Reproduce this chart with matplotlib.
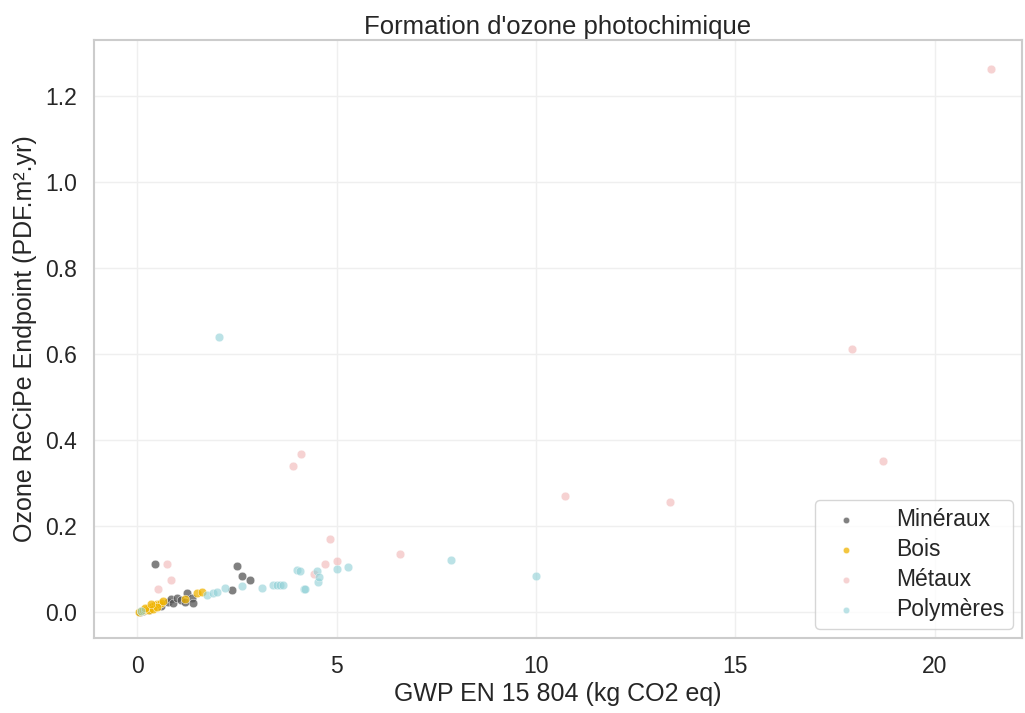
import matplotlib
matplotlib.use("Agg")
import matplotlib.pyplot as plt
import seaborn as sns

sns.set_theme(style="whitegrid")
plt.rcParams['font.family'] = ['Liberation Sans', 'DejaVu Sans']

categories = ["Minéraux", "Bois", "Métaux", "Polymères"]
colors = ["#555555", "#f0b400", "#f0b4b4", "#8fd0d6"]

min_x = [0.07, 0.15, 0.2, 0.3, 0.45, 0.6, 0.78, 0.85, 0.9, 1.0, 1.1, 1.2, 1.25, 1.37, 1.41, 2.39, 2.5, 2.62, 2.83]
min_y = [0.0, 0.003, 0.005, 0.006, 0.112, 0.015, 0.023, 0.030, 0.021, 0.033, 0.028, 0.024, 0.044, 0.033, 0.021, 0.051, 0.107, 0.083, 0.074]

bois_x = [0.05, 0.1, 0.15, 0.2, 0.25, 0.3, 0.35, 0.4, 0.45, 0.5, 0.55, 0.6, 0.3, 0.4, 0.5, 0.2, 0.35, 0.65, 1.2, 1.5, 1.62]
bois_y = [0.0, 0.002, 0.004, 0.006, 0.008, 0.010, 0.012, 0.014, 0.016, 0.018, 0.020, 0.022, 0.004, 0.008, 0.012, 0.010, 0.018, 0.025, 0.030, 0.045, 0.047]

met_x = [0.52, 0.76, 0.86, 3.91, 4.12, 4.44, 4.72, 4.83, 5.0, 6.58, 10.73, 13.36, 17.91, 18.69, 21.4]
met_y = [0.054, 0.112, 0.074, 0.340, 0.368, 0.088, 0.112, 0.170, 0.119, 0.135, 0.269, 0.256, 0.612, 0.352, 1.262]

pol_x = [0.1, 1.75, 1.9, 2.0, 2.2, 2.06, 2.62, 3.14, 3.41, 3.5, 3.58, 3.66, 4.02, 4.08, 4.19, 4.2, 4.52, 4.54, 4.57, 5.0, 5.28, 7.88, 9.99]
pol_y = [0.003, 0.040, 0.044, 0.048, 0.056, 0.640, 0.060, 0.057, 0.063, 0.063, 0.063, 0.063, 0.098, 0.096, 0.054, 0.054, 0.095, 0.070, 0.082, 0.101, 0.105, 0.122, 0.083]

series = [(min_x, min_y), (bois_x, bois_y), (met_x, met_y), (pol_x, pol_y)]
alphas = [0.75, 0.75, 0.6, 0.6]

fig = plt.figure(figsize=(10.25, 7.13), dpi=100)
ax = fig.add_axes([0.0917, 0.1052, 0.9053, 0.8387])

for (xs, ys), c, lab, a in zip(series, colors, categories, alphas):
    ax.scatter(xs, ys, s=38, color=c, alpha=a, edgecolors="white", linewidths=0.4, label=lab)

ax.set_xlim(-1.08, 22.18)
ax.set_ylim(-0.06, 1.33)
ax.set_xticks([0, 5, 10, 15, 20])
ax.set_yticks([0.0, 0.2, 0.4, 0.6, 0.8, 1.0, 1.2])
ax.set_yticklabels(["0.0", "0.2", "0.4", "0.6", "0.8", "1.0", "1.2"])
ax.tick_params(labelsize=16.5, colors="#262626", pad=6)
ax.grid(True, color="#efefef", linewidth=1)
for sp in ax.spines.values():
    sp.set_color("#cccccc")
    sp.set_linewidth(1.5)

ax.set_title("Formation d'ozone photochimique", fontsize=18.5, color="#262626", pad=4)
ax.set_xlabel("GWP EN 15 804 (kg CO2 eq)", fontsize=18, color="#262626", labelpad=3)
ax.set_ylabel("Ozone ReCiPe Endpoint (PDF.m².yr)", fontsize=18, color="#262626", labelpad=6)

leg = ax.legend(loc="lower right", fontsize=16.5, markerscale=0.75, frameon=True,
                borderaxespad=0.4, handletextpad=1.2, labelspacing=0.3, borderpad=0.35)
leg.get_frame().set_edgecolor("#cccccc")

fig.savefig("out.png", dpi=100)
